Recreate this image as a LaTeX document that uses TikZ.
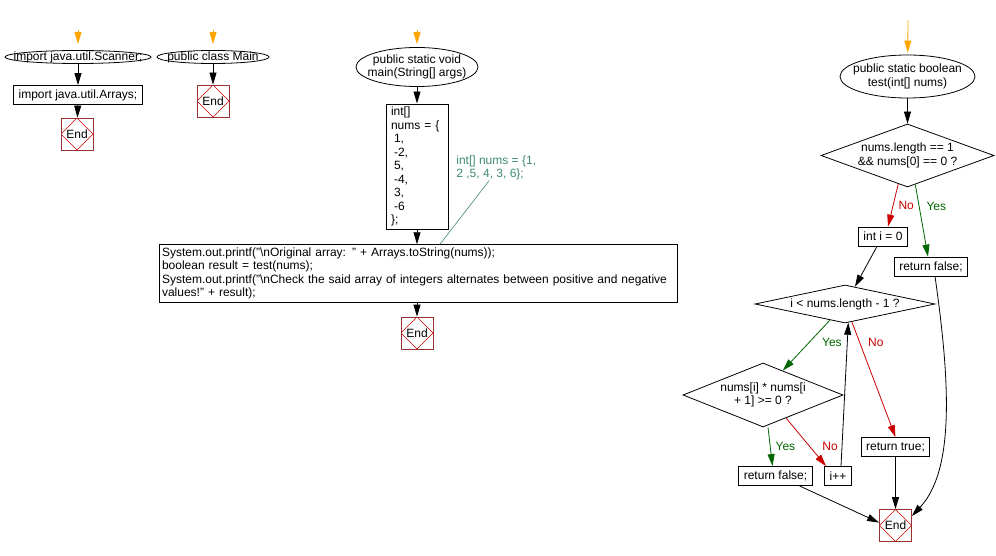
\documentclass[tikz,border=0pt]{standalone}
\usepackage{fontspec}
\setmainfont{Liberation Sans}
\usetikzlibrary{arrows.meta,shapes.geometric}
\definecolor{orng}{RGB}{255,165,0}
\definecolor{ncol}{RGB}{204,0,0}
\definecolor{ycol}{RGB}{0,102,0}
\definecolor{ccol}{RGB}{64,140,110}
\definecolor{ebrd}{RGB}{153,51,51}
\tikzset{
  >={Triangle[length=12pt,width=7pt]},
  trm/.style={ellipse,draw,inner xsep=-80pt,inner ysep=-20pt,align=center},
  bx/.style={rectangle,draw,inner xsep=5pt,inner ysep=3pt,minimum height=19pt},
  dm/.style={diamond,draw,inner xsep=-90pt,inner ysep=-40pt,align=center},
  fin/.style={rectangle,draw=ebrd,minimum size=32pt,inner sep=0pt,
    path picture={\draw[ncol,line width=0.6pt] (path picture bounding box.north)--(path picture bounding box.east)
      --(path picture bounding box.south)--(path picture bounding box.west)--cycle;}},
  lb/.style={inner sep=0pt},
  ylink/.style={draw=ycol,->,text=ycol},
  nlink/.style={draw=ncol,->,text=ncol},
  go/.style={draw=orng,->},
  every picture/.style={line width=0.8pt},
}
\begin{document}
\begin{tikzpicture}[x=1pt,y=-1pt,font=\fontsize{12}{13.5}\selectfont]
\useasboundingbox (0,0) rectangle (996,556);
% imports
\coordinate (s1) at (78,30);
\node[trm,minimum width=146,minimum height=13] (imp) at (78,57){import java.util.Scanner;};
\node[bx] (arr) at (78,95){import java.util.Arrays;};
\node[fin] (e1) at (77,134){End};
\draw[go,shorten >=6pt] (s1)--(imp); \draw[->] (imp)--(arr); \draw[->] (arr)--(e1);
% class
\coordinate (s2) at (213,30);
\node[trm,minimum width=112,minimum height=13] (cls) at (213,57){public class Main};
\node[fin] (e2) at (213,101){End};
\draw[go,shorten >=6pt] (s2)--(cls); \draw[->] (cls)--(e2);
% main
\coordinate (s3) at (417,30);
\node[trm,minimum width=122,minimum height=39] (mn) at (417,67){public static void\\main(String[] args)};
\node[bx,text width=52pt,align=left] (nums) at (417,166.5){int[]\\nums = \{\\\hspace*{3pt}1,\\\hspace*{3pt}-2,\\\hspace*{3pt}5,\\\hspace*{3pt}-4,\\\hspace*{3pt}3,\\\hspace*{3pt}-6\\\};};
\node[bx,text width=512pt,align=left,inner xsep=3pt] (prt) at (418,273.5){System.out.printf("\textbackslash nOriginal array: " + Arrays.toString(nums));\\boolean result = test(nums);\\System.out.printf("\textbackslash nCheck the said array of integers alternates between positive and negative\\values!" + result);};
\node[fin] (e3) at (417,333){End};
\node[text=ccol,align=left,anchor=north west,inner sep=0pt] (cmt) at (456,155){int[] nums = \{1,\\2 ,5, 4, 3, 6\};};
\draw[go,shorten >=3pt] (s3)--(mn); \draw[->] (mn)--(nums); \draw[->] (nums)--(nums|-prt.north); \draw[->] (prt.south-|e3)--(e3);
\draw[ccol,line width=0.6pt] ([xshift=-7]cmt.south)--([xshift=22]prt.north);
% test
\coordinate (s4) at (908,20);
\node[trm,minimum width=135,minimum height=43] (tst) at (907.5,76.5){public static boolean\\test(int[] nums)};
\node[dm,minimum width=173,minimum height=63] (c1) at (907.5,155.5){nums.length == 1\\\&\& nums[0] == 0 ?};
\node[bx] (ini) at (883,236.5){int i = 0};
\node[bx] (rf1) at (931,266.5){return false;};
\node[dm,minimum width=180,minimum height=38] (c2) at (845,304){i < nums.length - 1 ?};
\node[dm,minimum width=160,minimum height=64] (c3) at (763,395){nums[i] * nums[i\\+ 1] >= 0 ?};
\node[bx] (rf2) at (775.5,476){return false;};
\node[bx] (inc) at (838,476){i++};
\node[bx] (rt) at (895.5,447){return true;};
\node[fin] (e4) at (895.5,525.5){End};
\draw[go,shorten >=2pt] (s4)--(tst); \draw[->] (tst)--(c1);
\draw[nlink] (c1.-108)--node[lb,right=5pt]{No}([xshift=5]ini.north);
\draw[ylink] (c1.-75)--node[lb,pos=.3,right=7pt]{Yes}([xshift=-3]rf1.north);
\draw[->] ([xshift=-6]ini.south)--(c2.60);
\draw[ylink] (c2.-133)--node[lb,pos=.45,right=13pt]{Yes}(c3.51);
\draw[nlink] (c2.-69)--node[lb,pos=.18,right=8pt]{No}(rt.north);
\draw[ylink] ([xshift=5]c3.south)--node[lb,right=5pt]{Yes}([xshift=-3]rf2.north);
\draw[nlink] (c3.-45)--node[lb,pos=.6,right=12pt]{No}([xshift=-12]inc.north);
\draw[->] ([xshift=3]inc.north)--(c2.-80);
\draw[->] ([xshift=24]rf2.south)--(e4.170);
\draw[->] (rt)--(e4);
\draw[->] ([xshift=4]rf1.south) .. controls +(15,105) and +(43,-46) .. (e4.30);
\end{tikzpicture}
\end{document}
